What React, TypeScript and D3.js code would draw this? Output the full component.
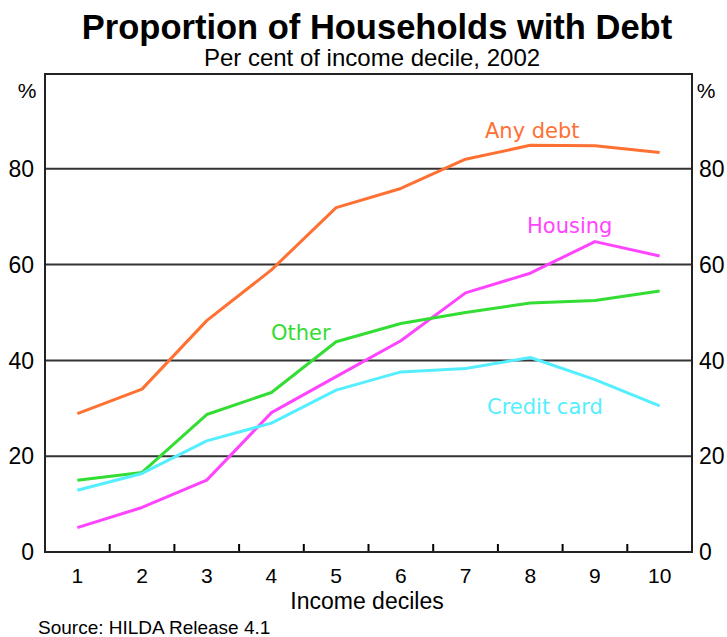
import React from "react";
import * as d3 from "d3";

const deciles = ["1", "2", "3", "4", "5", "6", "7", "8", "9", "10"];
const anyDebt = [28.9, 34.0, 48.3, 58.9, 71.9, 75.9, 82.0, 84.9, 84.8, 83.4];
const housing = [5.1, 9.3, 15.0, 29.1, 36.6, 44.1, 54.1, 58.2, 64.8, 61.8];
const other = [15.0, 16.6, 28.7, 33.3, 43.9, 47.7, 50.0, 52.0, 52.5, 54.5];
const creditCard = [12.9, 16.4, 23.2, 26.9, 33.8, 37.6, 38.3, 40.6, 36.0, 30.5];
const yTicks = [0, 20, 40, 60, 80];

const series = [
  { name: "Any debt", values: anyDebt, color: "#FF7033", lx: 485, ly: 138 },
  { name: "Housing", values: housing, color: "#FF44FF", lx: 527, ly: 233 },
  { name: "Other", values: other, color: "#33DD33", lx: 271, ly: 340 },
  { name: "Credit card", values: creditCard, color: "#55EEFF", lx: 487, ly: 414 },
];

export default function App() {
  const W = 727, H = 637;
  const L = 45, R = 692, T = 74, B = 552;
  const x = d3.scaleBand().domain(deciles).range([L, R]);
  const y = d3.scaleLinear().domain([0, 100]).range([B, T - 1]);
  const line = d3
    .line<number>()
    .x((_, i) => (x(deciles[i]) as number) + x.bandwidth() / 2)
    .y((d) => y(d));
  const arial = "'Liberation Sans', Arial, sans-serif";
  const dejavu = "'DejaVu Sans', sans-serif";
  return (
    <svg width={W} height={H} style={{ position: "absolute", left: 0, top: 0, background: "#fff" }}>
      <rect x={0} y={0} width={W} height={H} fill="#fff" />
      <text x={377} y={39} textAnchor="middle" fontFamily={arial} fontWeight="bold" fontSize={34.5} fill="#000">
        Proportion of Households with Debt
      </text>
      <text x={372} y={66} textAnchor="middle" fontFamily={arial} fontSize={24} fill="#000">
        Per cent of income decile, 2002
      </text>
      {yTicks.filter((t) => t > 0).map((t) => (
        <line key={"g" + t} x1={L} x2={R} y1={y(t)} y2={y(t)} stroke="#333" strokeWidth={2} />
      ))}
      {deciles.slice(1).map((d) => (
        <line key={"t" + d} x1={x(d)} x2={x(d)} y1={B} y2={B - 8} stroke="#000" strokeWidth={2} />
      ))}
      <rect x={L} y={T} width={R - L} height={B - T} fill="none" stroke="#222" strokeWidth={2} />
      {series.map((s) => (
        <path key={s.name} d={line(s.values) || ""} fill="none" stroke={s.color} strokeWidth={3} strokeLinejoin="round" />
      ))}
      {series.map((s) => (
        <text key={"l" + s.name} x={s.lx} y={s.ly} fontFamily={dejavu} fontSize={21} fill={s.color}>
          {s.name}
        </text>
      ))}
      {yTicks.map((t) => (
        <g key={"yl" + t}>
          <text x={34} y={y(t)} dy="0.36em" textAnchor="end" fontFamily={arial} fontSize={23} fill="#000">
            {t}
          </text>
          <text x={699} y={y(t)} dy="0.36em" textAnchor="start" fontFamily={arial} fontSize={23} fill="#000">
            {t}
          </text>
        </g>
      ))}
      <text x={27} y={98} textAnchor="middle" fontFamily={arial} fontSize={21} fill="#000">%</text>
      <text x={706} y={98} textAnchor="middle" fontFamily={arial} fontSize={21} fill="#000">%</text>
      {deciles.map((d) => (
        <text key={"xl" + d} x={(x(d) as number) + x.bandwidth() / 2} y={583} textAnchor="middle" fontFamily={arial} fontSize={21} fill="#000">
          {d}
        </text>
      ))}
      <text x={367} y={609} textAnchor="middle" fontFamily={arial} fontSize={23} fill="#000">
        Income deciles
      </text>
      <text x={38} y={634} fontFamily={arial} fontSize={19} fill="#000">
        Source: HILDA Release 4.1
      </text>
    </svg>
  );
}
